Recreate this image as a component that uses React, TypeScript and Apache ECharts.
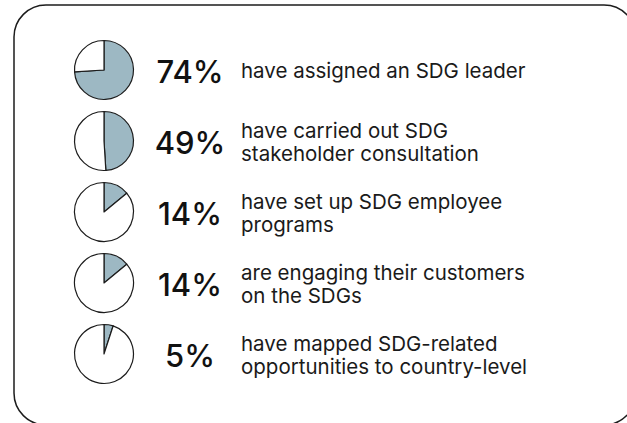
import React, { useEffect, useRef } from "react";
import * as echarts from "echarts";

const percents = [74, 49, 14, 14, 5];
const percentLabels = ["74%", "49%", "14%", "14%", "5%"];
const descriptions = [
  "have assigned an SDG leader",
  "have carried out SDG\nstakeholder consultation",
  "have set up SDG employee\nprograms",
  "are engaging their customers\non the SDGs",
  "have mapped SDG-related\nopportunities to country-level",
];

const FILL = "#9db8c3";
const INK = "#1c1c1c";
const ROW0 = 70;
const STEP = 71;
const PIE_X = 104;
const PIE_R = 29.5;
const PCT_X = 190;
const DESC_X = 241;
const FONT = "Inter, 'Noto Sans', sans-serif";

export default function App() {
  const ref = useRef<HTMLDivElement>(null);
  useEffect(() => {
    if (!ref.current) return;
    const chart = echarts.init(ref.current, null, { renderer: "svg" });
    const series = percents.map((v, i) => ({
      type: "pie",
      center: [PIE_X, ROW0 + i * STEP],
      radius: [0, PIE_R],
      startAngle: 90,
      clockwise: true,
      silent: true,
      label: { show: false },
      labelLine: { show: false },
      emphasis: { disabled: true },
      itemStyle: { borderColor: INK, borderWidth: 1.2 },
      data: [
        { value: v, itemStyle: { color: FILL } },
        { value: 100 - v, itemStyle: { color: "#ffffff" } },
      ],
    }));
    const texts: any[] = [];
    percentLabels.forEach((p, i) => {
      texts.push({
        type: "text",
        x: PCT_X,
        y: ROW0 + i * STEP + 1.5,
        style: {
          text: p,
          font: `500 31px ${FONT}`,
          fill: "#111",
          align: "center",
          verticalAlign: "middle",
        },
      });
    });
    descriptions.forEach((d, i) => {
      texts.push({
        type: "text",
        x: DESC_X,
        y: ROW0 + i * STEP + 0.5,
        style: {
          text: d,
          font: `400 20.5px ${FONT}`,
          lineHeight: 23,
          fill: "#1a1a1a",
          align: "left",
          verticalAlign: "middle",
        },
      });
    });
    chart.setOption({
      animation: false,
      backgroundColor: "#ffffff",
      series,
      graphic: [
        {
          type: "rect",
          shape: { x: 14, y: 5, width: 622, height: 420, r: 32 },
          style: { fill: "none", stroke: INK, lineWidth: 1.5 },
          silent: true,
        },
        ...texts,
      ],
    });
    return () => chart.dispose();
  }, []);
  return (
    <div
      ref={ref}
      style={{ position: "fixed", left: 0, top: 0, width: 627, height: 423 }}
    />
  );
}
